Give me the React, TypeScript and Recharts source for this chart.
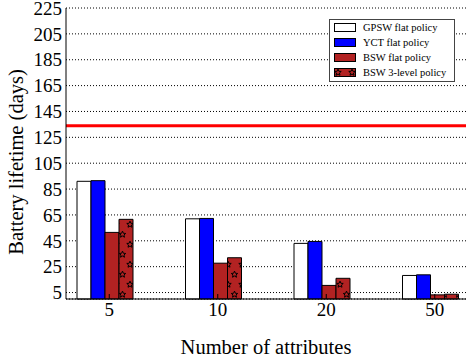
import React from 'react';
import { BarChart, Bar, XAxis, YAxis, CartesianGrid, Legend, ReferenceLine } from 'recharts';

// number of attributes on the x axis
const attributes = ['5', '10', '20', '50'];
// battery lifetime in days, per policy
const gpswFlat = [91, 62, 43, 18.2];
const yctFlat = [91.5, 62.3, 44.5, 18.7];
const bswFlat = [51.5, 27.7, 10.5, 3.2];
const bsw3Level = [61.6, 31.9, 16, 3.7];
const yTicks = [5, 25, 45, 65, 85, 105, 125, 145, 165, 185, 205, 225];
const targetLifetime = 134;

const data = attributes.map((a, i) => ({
  attr: a,
  gpsw: gpswFlat[i],
  yct: yctFlat[i],
  bsw: bswFlat[i],
  bsw3: bsw3Level[i],
}));

const series = [
  { key: 'gpsw', name: 'GPSW flat policy', fill: '#ffffff' },
  { key: 'yct', name: 'YCT flat policy', fill: '#0000ff' },
  { key: 'bsw', name: 'BSW flat policy', fill: '#b22222' },
  { key: 'bsw3', name: 'BSW 3-level policy', fill: 'url(#stars)' },
];

const FONT = '"Liberation Serif", "DejaVu Serif", serif';
const PAD = { left: -15, right: -19 };

const starPath = (cx: number, cy: number, r: number) => {
  const pts: string[] = [];
  for (let k = 0; k < 10; k++) {
    const rr = k % 2 === 0 ? r : r * 0.45;
    const a = -Math.PI / 2 + (k * Math.PI) / 5;
    pts.push(`${(cx + rr * Math.cos(a)).toFixed(2)},${(cy + rr * Math.sin(a)).toFixed(2)}`);
  }
  return 'M' + pts.join('L') + 'Z';
};

const BottomTick = (props: any) => {
  const { x, y, payload } = props;
  const cx = x + 4;
  return (
    <g>
      <line x1={cx} x2={cx} y1={y} y2={y - 5} stroke="#000" />
      <text x={cx} y={y + 17} textAnchor="middle" fontSize={19} fill="#000" fontFamily={FONT}>
        {payload.value}
      </text>
    </g>
  );
};

const TopTick = (props: any) => {
  const { x, y } = props;
  const cx = x + 4;
  return <line x1={cx} x2={cx} y1={y} y2={y + 5} stroke="#000" />;
};

const LegendBox = () => (
  <div
    style={{
      border: '1px solid #444',
      background: '#fff',
      padding: '0px 4px 1px 4px',
      fontFamily: FONT,
      fontSize: 10.5,
      lineHeight: '15px',
      color: '#000',
    }}
  >
    {series.map((s) => (
      <div key={s.key} style={{ display: 'flex', alignItems: 'center', whiteSpace: 'nowrap' }}>
        <svg width={22} height={9} style={{ marginRight: 7 }}>
          <rect x={0.5} y={0.5} width={21} height={8} fill={s.fill} stroke="#000" />
        </svg>
        {s.name}
      </div>
    ))}
  </div>
);

export default function App() {
  return (
    <div style={{ position: 'absolute', left: 0, top: 0, fontFamily: FONT }}>
      <BarChart
        width={466}
        height={359}
        data={data}
        margin={{ top: 8, right: 0, bottom: 0, left: 0 }}
        barGap={0}
        barSize={14}
      >
        <defs>
          <pattern id="stars" patternUnits="userSpaceOnUse" width={14} height={20}>
            <rect x={0} y={0} width={14} height={20} fill="#b22222" />
            <path d={starPath(4, 4.5, 3.4)} fill="none" stroke="#000" strokeWidth={1} />
            <path d={starPath(10.5, 14.5, 3.4)} fill="none" stroke="#000" strokeWidth={1} />
          </pattern>
        </defs>
        <CartesianGrid vertical={false} stroke="#000" strokeDasharray="1 2" />
        <XAxis
          dataKey="attr"
          padding={PAD}
          height={60}
          stroke="#000"
          tickLine={false}
          tickSize={0}
          tickMargin={0}
          tick={<BottomTick />}
          label={{ value: 'Number of attributes', position: 'insideBottom', offset: 5, fontSize: 20.5, fill: '#000' }}
        />
        <XAxis
          xAxisId="top"
          dataKey="attr"
          orientation="top"
          padding={PAD}
          height={0}
          stroke="#000"
          tickLine={false}
          tickSize={0}
          tickMargin={0}
          tick={<TopTick />}
        />
        <YAxis
          width={66}
          domain={[0, 225]}
          ticks={yTicks}
          interval={0}
          stroke="#000"
          tickLine={false}
          tickSize={0}
          tickMargin={4}
          tick={{ fontSize: 19, fill: '#000', fontFamily: FONT }}
          label={{
            content: () => (
              <text
                transform="translate(23,162) rotate(-90)"
                textAnchor="middle"
                fontSize={20.5}
                fill="#000"
                fontFamily={FONT}
              >
                Battery lifetime (days)
              </text>
            ),
          }}
        />
        <ReferenceLine y={targetLifetime} stroke="#ff0000" strokeWidth={3} />
        <Legend
          layout="horizontal"
          verticalAlign="middle"
          align="center"
          content={<LegendBox />}
          wrapperStyle={{ position: 'absolute', left: 329, top: 19, width: 126 }}
        />
        {series.map((s) => (
          <Bar
            key={s.key}
            dataKey={s.key}
            name={s.name}
            fill={s.fill}
            stroke="#000"
            strokeWidth={1}
            isAnimationActive={false}
          />
        ))}
      </BarChart>
    </div>
  );
}
